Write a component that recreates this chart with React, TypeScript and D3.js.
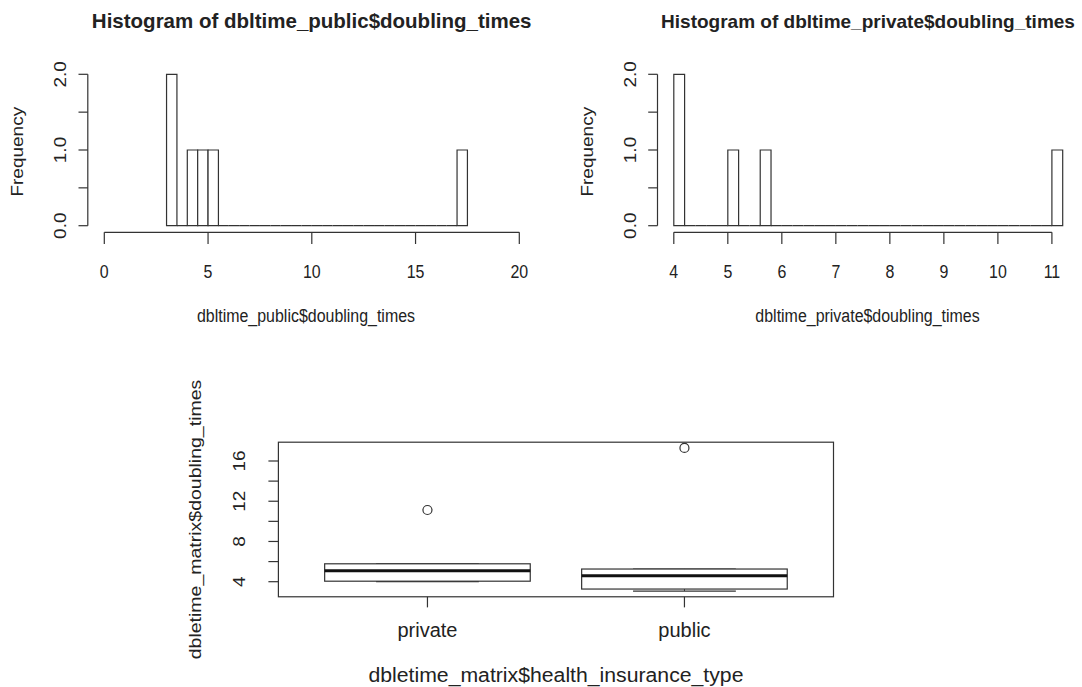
import React from 'react';
import * as d3 from 'd3';

const publicTimes = [3.07, 3.27, 4.3, 4.9, 5.26, 17.3];
const privateTimes = [4.0, 4.05, 5.09, 5.78, 11.13];

// histogram breaks: [first, last, width]
const publicBreaks = [3, 17.5, 0.5];
const privateBreaks = [4, 11.2, 0.2];

const publicXTicks = [0, 5, 10, 15, 20];
const privateXTicks = [4, 5, 6, 7, 8, 9, 10, 11];
const freqTicks = [0, 0.5, 1, 1.5, 2];
const freqLabelTicks = [0, 1, 2];

const groups = ['private', 'public'];
const boxYTicks = [4, 6, 8, 10, 12, 14, 16];
const boxYLabelTicks = [4, 8, 12, 16];

const FONT = "'Liberation Sans', Arial, Helvetica, sans-serif";
const INK = '#222';
const LINE = '#333';
const SX = 0.84; // the picture is squeezed sideways

type TProps = {x: number; y: number; size: number; sx?: number; anchor?: string; bold?: boolean; len?: number; children: React.ReactNode};

const HText = ({x, y, size, sx = 1, anchor = 'middle', bold, len, children}: TProps) => (
  <text transform={`translate(${x},${y}) scale(${sx},1)`} textAnchor={anchor}
    fontFamily={FONT} fontSize={size} fontWeight={bold ? 'bold' : 'normal'} fill={INK}
    textLength={len} lengthAdjust={len ? 'spacingAndGlyphs' : undefined}>{children}</text>
);

const VText = ({x, y, size, sx = 1, children}: TProps) => (
  <text transform={`translate(${x},${y}) scale(${sx},1) rotate(-90)`} textAnchor="middle"
    fontFamily={FONT} fontSize={size} fill={INK}>{children}</text>
);

function makeBins(values: number[], brk: number[]) {
  const [lo, hi, w] = brk;
  const n = Math.round((hi - lo) / w);
  const thresholds = d3.range(1, n).map(i => lo + i * w);
  return d3.bin().domain([lo, hi]).thresholds(thresholds)(values);
}

// R's fivenum + boxplot.stats
function boxStats(values: number[]) {
  const s = [...values].sort((a, b) => a - b);
  const n = s.length;
  const n4 = Math.floor((n + 3) / 2) / 2;
  const d = [1, n4, (n + 1) / 2, n + 1 - n4, n];
  const f = d.map(v => 0.5 * (s[Math.floor(v) - 1] + s[Math.ceil(v) - 1]));
  const iqr = f[3] - f[1];
  const lo = f[1] - 1.5 * iqr, hi = f[3] + 1.5 * iqr;
  const inside = s.filter(v => v >= lo && v <= hi);
  return {
    q1: f[1], med: f[2], q3: f[3],
    wLo: d3.min(inside) as number, wHi: d3.max(inside) as number,
    out: s.filter(v => v < lo || v > hi),
  };
}

type HistProps = {
  values: number[]; breaks: number[]; xTicks: number[]; xRange: [number, number];
  axisX: number; title: string; titleX: number; titleSize: number; xlab: string; xlabX: number;
};

const Histogram = ({values, breaks, xTicks, xRange, axisX, title, titleX, titleSize, xlab, xlabX}: HistProps) => {
  const bins = makeBins(values, breaks);
  const x = d3.scaleLinear().domain([xTicks[0], xTicks[xTicks.length - 1]]).range(xRange);
  const y = d3.scaleLinear().domain([0, 2]).range([225.7, 74.3]);
  const axisY = 232.3;
  return (
    <g>
      <HText x={titleX} y={27.7} size={titleSize} bold>{title}</HText>
      {bins.map((b, i) => (
        <path key={i} fill="white" stroke={LINE} strokeWidth={1.2}
          d={`M${x(b.x0!)},${y(0)}V${y(b.length)}H${x(b.x1!)}V${y(0)}Z`} />
      ))}
      {/* y axis */}
      <line x1={axisX} x2={axisX} y1={y(0)} y2={y(2)} stroke={LINE} strokeWidth={1.2} />
      {freqTicks.map(t => (
        <line key={t} x1={axisX - 9.3} x2={axisX} y1={y(t)} y2={y(t)} stroke={LINE} strokeWidth={1.2} />
      ))}
      {freqLabelTicks.map(t => (
        <VText key={t} x={axisX - 22} y={y(t)} size={19} sx={SX}>{d3.format('.1f')(t)}</VText>
      ))}
      <VText x={axisX - 65} y={151.7} size={19} sx={SX}>Frequency</VText>
      {/* x axis */}
      <line x1={x(xTicks[0])} x2={x(xTicks[xTicks.length - 1])} y1={axisY} y2={axisY} stroke={LINE} strokeWidth={1.2} />
      {xTicks.map(t => (
        <g key={t}>
          <line x1={x(t)} x2={x(t)} y1={axisY} y2={axisY + 11.7} stroke={LINE} strokeWidth={1.2} />
          <HText x={x(t)} y={278.3} size={19} sx={SX}>{t}</HText>
        </g>
      ))}
      <HText x={xlabX} y={322} size={19} sx={SX}>{xlab}</HText>
    </g>
  );
};

const BoxPlot = () => {
  const stats = [boxStats(privateTimes), boxStats(publicTimes)];
  const all = [...privateTimes, ...publicTimes];
  const [lo, hi] = d3.extent(all) as [number, number];
  const pad = (hi - lo) * 0.04;
  const y = d3.scaleLinear().domain([4, 16]).range([581.7, 461]);
  const x = d3.scaleLinear().domain([0.42, 2.58]).range([278.4, 833.5]);
  const top = y(hi + pad), bottom = y(lo - pad);
  const left = x(0.42), right = x(2.58);
  const half = x(1.4) - x(1);
  const stapleHalf = half * 0.5;
  return (
    <g>
      {stats.map((s, i) => {
        const cx = x(i + 1);
        return (
          <g key={groups[i]}>
            <line x1={cx} x2={cx} y1={y(s.q3)} y2={y(s.wHi)} stroke={LINE} strokeDasharray="4,4" />
            <line x1={cx} x2={cx} y1={y(s.q1)} y2={y(s.wLo)} stroke={LINE} strokeDasharray="4,4" />
            <line x1={cx - stapleHalf} x2={cx + stapleHalf} y1={y(s.wHi)} y2={y(s.wHi)} stroke={LINE} strokeWidth={1.2} />
            <line x1={cx - stapleHalf} x2={cx + stapleHalf} y1={y(s.wLo)} y2={y(s.wLo)} stroke={LINE} strokeWidth={1.2} />
            <rect x={cx - half} y={y(s.q3)} width={2 * half} height={y(s.q1) - y(s.q3)}
              fill="white" stroke={LINE} strokeWidth={1.2} />
            <line x1={cx - half} x2={cx + half} y1={y(s.med)} y2={y(s.med)} stroke="#111" strokeWidth={3} />
            {s.out.map(o => (
              <circle key={o} cx={cx} cy={y(o)} r={4.5} fill="none" stroke={LINE} strokeWidth={1.2} />
            ))}
            <line x1={cx} x2={cx} y1={bottom} y2={bottom + 10.6} stroke={LINE} strokeWidth={1.2} />
            <HText x={cx} y={636.7} size={20}>{groups[i]}</HText>
          </g>
        );
      })}
      <rect x={left} y={top} width={right - left} height={bottom - top} fill="none" stroke={LINE} strokeWidth={1.2} />
      {boxYTicks.map(t => (
        <line key={t} x1={left - 10} x2={left} y1={y(t)} y2={y(t)} stroke={LINE} strokeWidth={1.2} />
      ))}
      {boxYLabelTicks.map(t => (
        <VText key={t} x={left - 33} y={y(t)} size={19} sx={SX}>{t}</VText>
      ))}
      <VText x={left - 77} y={(top + bottom) / 2} size={19.5} sx={SX}>dbletime_matrix$doubling_times</VText>
      <HText x={(left + right) / 2} y={682} size={20} len={375}>dbletime_matrix$health_insurance_type</HText>
    </g>
  );
};

export default function App() {
  return (
    <svg width={1082} height={687} style={{position: 'absolute', left: 0, top: 0, background: 'white'}}>
      <rect width={1082} height={687} fill="white" />
      <Histogram values={publicTimes} breaks={publicBreaks} xTicks={publicXTicks} xRange={[104.3, 519.3]}
        axisX={87.8} title="Histogram of dbltime_public$doubling_times" titleX={311.7} titleSize={20.5}
        xlab="dbltime_public$doubling_times" xlabX={306} />
      <Histogram values={privateTimes} breaks={privateBreaks} xTicks={privateXTicks} xRange={[673.8, 1051.9]}
        axisX={657.5} title="Histogram of dbltime_private$doubling_times" titleX={868} titleSize={19}
        xlab="dbltime_private$doubling_times" xlabX={867.5} />
      <BoxPlot />
    </svg>
  );
}
